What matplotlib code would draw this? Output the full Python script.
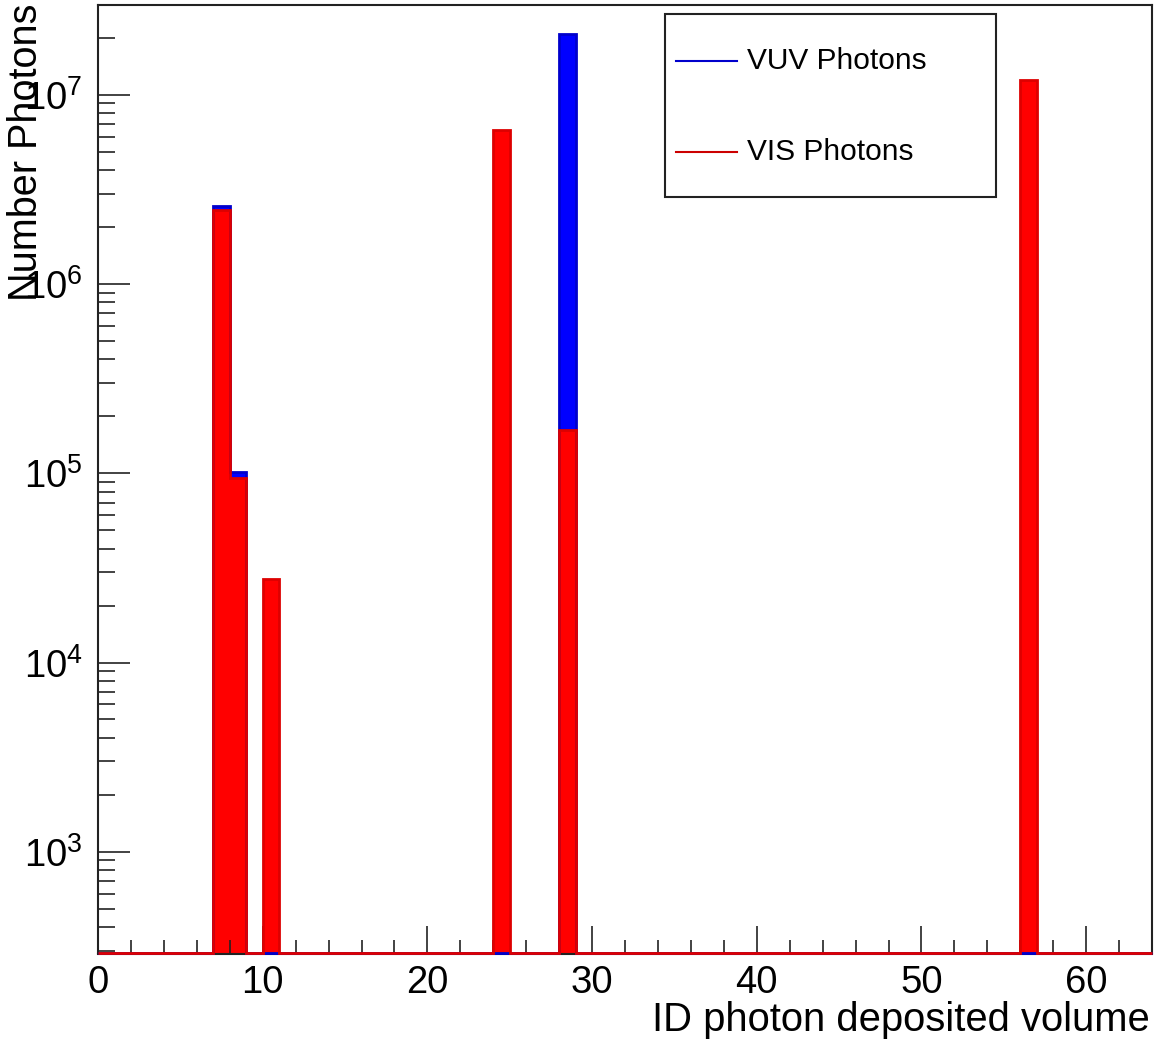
import numpy as np
import matplotlib
matplotlib.use('Agg')
import matplotlib.pyplot as plt
from matplotlib.ticker import MultipleLocator, LogLocator, FuncFormatter, NullFormatter
from matplotlib.lines import Line2D
from matplotlib.patches import Rectangle

plt.rcParams['font.family'] = ['Liberation Sans', 'DejaVu Sans']
plt.rcParams['mathtext.fontset'] = 'custom'
plt.rcParams['mathtext.rm'] = 'Liberation Sans'

# Histogram contents (bin width 1, volume IDs 0..63)
volume_ids = [7, 8, 10, 24, 28, 56]
vuv_counts = [2.58e6, 1.02e5, 0, 0, 2.1e7, 0]
vis_counts = [2.46e6, 9.4e4, 2.77e4, 6.53e6, 1.69e5, 1.19e7]

n_bins = 64
y_min, y_max = 290, 2.98e7

edges = np.arange(n_bins + 1)
vuv_hist = np.zeros(n_bins)
vis_hist = np.zeros(n_bins)
vuv_hist[volume_ids] = vuv_counts
vis_hist[volume_ids] = vis_counts

W, H = 1163, 1044
fig = plt.figure(figsize=(W / 100, H / 100), dpi=100)
ax = fig.add_axes([98 / W, 1 - 953.5 / H, (1152 - 98) / W, (953.5 - 5) / H])
ax.set_yscale('log')

# filled histograms: VUV first, VIS drawn over it
ax.stairs(vuv_hist, edges, fill=True, baseline=1, color='#0000ff', linewidth=0)
ax.stairs(np.maximum(vuv_hist, y_min), edges, baseline=None, color='#0000cc',
          linewidth=2, clip_on=False, zorder=3)
ax.stairs(vis_hist, edges, fill=True, baseline=1, color='#ff0000', linewidth=0)
ax.stairs(np.maximum(vis_hist, y_min), edges, baseline=None, color='#dd0000',
          linewidth=2, clip_on=False, zorder=3)

ax.set_xlim(0, n_bins)
ax.set_ylim(y_min, y_max)

ax.xaxis.set_major_locator(MultipleLocator(10))
ax.xaxis.set_minor_locator(MultipleLocator(2))
ax.yaxis.set_major_locator(LogLocator(base=10))
ax.yaxis.set_minor_locator(LogLocator(base=10, subs=np.arange(2, 10)))
ax.yaxis.set_major_formatter(FuncFormatter(lambda v, p: r'$\mathregular{10^{%d}}$' % round(np.log10(v))))
ax.yaxis.set_minor_formatter(NullFormatter())

ax.tick_params(axis='both', which='both', direction='in', top=False, right=False,
               labelsize=27.5, width=1.2, color='#222222')
ax.tick_params(axis='y', which='major', length=23, pad=11)
ax.tick_params(axis='y', which='minor', length=12)
ax.tick_params(axis='x', which='major', length=20, pad=8)
ax.tick_params(axis='x', which='minor', length=10)

for s in ax.spines.values():
    s.set_linewidth(1.5)
    s.set_color('#222222')

fig.text(1150 / W, 1 - 1001 / H, 'ID photon deposited volume', fontsize=28.8,
         ha='right', va='top')
fig.text(26 / W, 1 - 4 / H, 'Number Photons', fontsize=28.5, rotation=90,
         ha='center', va='top')

# legend box
fig.patches.append(Rectangle((665 / W, 1 - 197 / H), (996 - 665) / W, (197 - 14) / H,
                             transform=fig.transFigure, fill=False,
                             edgecolor='#222222', linewidth=1.5))
for y_px, col, lab in [(61, '#0000cc', 'VUV Photons'), (152, '#cc0000', 'VIS Photons')]:
    fig.lines.append(Line2D([676 / W, 737 / W], [1 - y_px / H] * 2,
                            transform=fig.transFigure, color=col, linewidth=1.5))
    fig.text(747 / W, 1 - y_px / H, lab, fontsize=21.5, ha='left', va='center')

fig.savefig('out.png', dpi=100)
